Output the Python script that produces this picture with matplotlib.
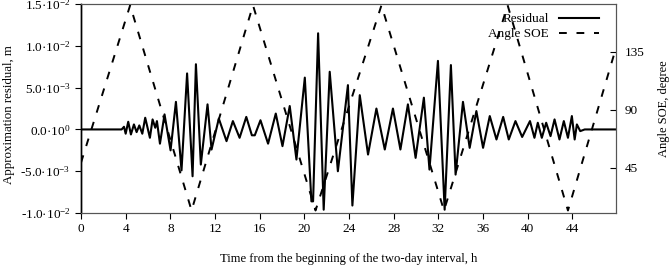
import numpy as np
import matplotlib
matplotlib.use('Agg')
import matplotlib.pyplot as plt

plt.rcParams['font.family'] = ['Liberation Serif', 'DejaVu Serif']
plt.rcParams['mathtext.fontset'] = 'custom'
plt.rcParams['mathtext.rm'] = 'Liberation Serif'
plt.rcParams['mathtext.it'] = 'Liberation Serif:italic'

# residual (time h, residual in 1e-3 m)
res_t = [0.0, 3.64, 3.85, 4.0, 4.23, 4.47, 4.74, 4.98, 5.22, 5.49, 5.75, 6.17, 6.41, 6.65, 6.8,
         7.07, 7.48, 8.02, 8.5, 9.0, 9.5, 9.99, 10.29, 10.73, 11.33, 11.69, 12.34, 13.03, 13.6,
         14.2, 14.8, 15.3, 15.56, 16.07, 16.75, 17.44, 18.04, 18.69, 19.29, 20.04, 20.63, 20.78,
         21.23, 21.73, 22.27, 23.0, 23.9, 24.3, 24.96, 25.7, 26.45, 27.2, 27.93, 28.6, 29.27,
         29.96, 30.7, 31.2, 31.96, 32.56, 33.12, 33.54, 34.2, 34.8, 35.4, 36.0, 36.6, 37.2, 37.8,
         38.3, 38.9, 39.5, 40.2, 40.6, 40.9, 41.26, 41.65, 42.04, 42.4, 42.84, 43.23, 43.6, 43.95,
         44.2, 44.4, 44.7, 45.1, 45.3, 47.9]
res_v = [0.0, 0.0, 0.32, -0.51, 0.92, -0.6, 0.6, -0.32, 0.48, -0.51, 1.4, -1.0, 1.2, 0.2, 1.0,
         -1.7, 1.8, -2.5, 3.3, -4.9, 6.7, -5.6, 7.8, -4.2, 3.0, -2.4, 1.3, -1.4, 1.0,
         -1.0, 1.5, -0.7, -0.7, 1.1, -1.7, 1.9, -2.0, 2.8, -3.6, 6.2, -8.6, -8.6,
         11.5, -9.6, 6.9, -5.0, 5.3, -9.1, 4.1, -3.0, 2.5, -2.4, 2.5, -2.4, 3.0,
         -3.4, 3.8, -4.8, 8.2, -9.6, 7.7, -5.4, 3.3, -2.2, 2.2, -2.2, 1.6, -1.2, 1.5,
         -1.2, 1.0, -0.9, 1.0, -1.0, 0.8, -1.0, 0.8, -0.8, 1.2, -1.2, 1.0, -1.0, 1.6,
         -1.2, 0.6, -0.2, 0.0, 0.0, 0.0]

# angle SOE, degrees
soe_t = [0.0, 4.4, 9.9, 15.4, 21.0, 26.9, 32.5, 38.2, 43.6, 47.9]
soe_v = [49, 171, 12, 171, 12, 171, 12, 171, 12, 138]

xticks = list(range(0, 48, 4))
yticks = [-1.0e-2, -5.0e-3, 0.0, 5.0e-3, 1.0e-2, 1.5e-2]
ylabels = ['-1.0\u00b710$^{-2}$', '-5.0\u00b710$^{-3}$', '0.0\u00b710$^{0}$',
           '5.0\u00b710$^{-3}$', '1.0\u00b710$^{-2}$', '1.5\u00b710$^{-2}$']
rticks = [45, 90, 135]

fig = plt.figure(figsize=(6.71, 2.68), dpi=100)
ax = fig.add_axes([0.1207, 0.205, 0.7973, 0.78])
ax2 = ax.twinx()

l1, = ax.plot(res_t, np.array(res_v) * 1e-3, color='black', lw=1.5,
              solid_joinstyle='round', label='Residual')
l2, = ax2.plot(soe_t, soe_v, color='black', lw=1.4, dashes=(4, 5), label='Angle SOE')

ax.set_xlim(0, 47.9)
ax.set_ylim(-1.0e-2, 1.5e-2)
ax2.set_ylim(10, 172)
ax.set_xticks(xticks)
ax.set_yticks(yticks)
ax.set_yticklabels(ylabels)
ax2.set_yticks(rticks)

ax.tick_params(axis='both', direction='out', length=4, labelsize=9.5, width=0.8)
ax2.tick_params(axis='y', direction='in', length=4, labelsize=9.5, width=0.8, pad=6)
for a in (ax, ax2):
    for s in ('top', 'bottom', 'right'):
        a.spines[s].set_color('#555555')
        a.spines[s].set_linewidth(0.8)
    a.spines['left'].set_color('black')
    a.spines['left'].set_linewidth(1.0)

ax.set_xlabel('Time from the beginning of the two-day interval, h', fontsize=9.1)
ax.xaxis.set_label_coords(0.5, -0.19)
ax.set_ylabel('Approximation residual, m', fontsize=9.3)
ax.yaxis.set_label_coords(-0.124, 0.47)
ax2.set_ylabel('Angle SOE, degree', fontsize=9.0)
ax2.yaxis.set_label_coords(1.078, 0.50)

ax2.legend([l1, l2], ['Residual', 'Angle SOE'], loc='upper right', frameon=False,
           markerfirst=False, fontsize=9.5, handlelength=3.0, borderaxespad=0.3,
           labelspacing=0.2, bbox_to_anchor=(0.985, 1.0))

fig.savefig('out.png', dpi=100)
